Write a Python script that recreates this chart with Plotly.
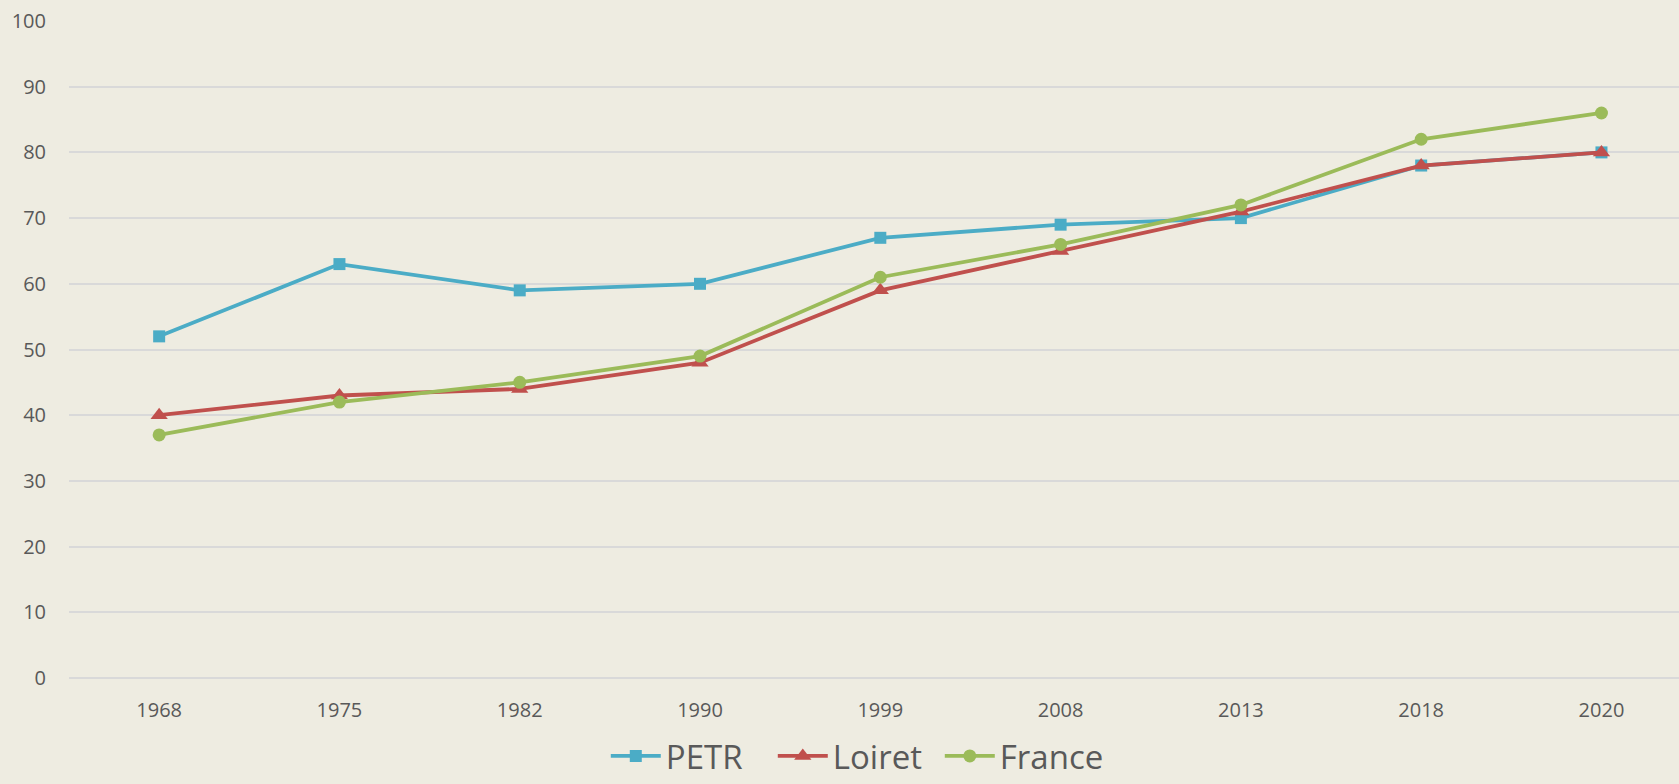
import plotly.graph_objects as go

years = ["1968", "1975", "1982", "1990", "1999", "2008", "2013", "2018", "2020"]
petr = [52, 63, 59, 60, 67, 69, 70, 78, 80]
loiret = [40, 43, 44, 48, 59, 65, 71, 78, 80]
france = [37, 42, 45, 49, 61, 66, 72, 82, 86]
y_ticks = [0, 10, 20, 30, 40, 50, 60, 70, 80, 90, 100]

fig = go.Figure()
fig.add_trace(go.Scatter(x=years, y=petr, name="PETR", mode="lines+markers",
                         line=dict(color="#4BACC6", width=3.8),
                         marker=dict(symbol="square", size=12, color="#4BACC6")))
fig.add_trace(go.Scatter(x=years, y=loiret, name="Loiret", mode="lines+markers",
                         line=dict(color="#C0504D", width=3.8),
                         marker=dict(symbol="triangle-up", size=15, color="#C0504D")))
fig.add_trace(go.Scatter(x=years, y=france, name="France", mode="lines+markers",
                         line=dict(color="#9BBB59", width=3.8),
                         marker=dict(symbol="circle", size=13, color="#9BBB59")))

fig.update_layout(
    width=1679, height=784,
    paper_bgcolor="#EEECE1", plot_bgcolor="#EEECE1",
    margin=dict(l=69, r=0, t=21, b=106),
    font=dict(family="Open Sans", color="#595959", size=20),
    showlegend=True,
    legend=dict(orientation="h", xref="container", yref="container",
                x=0.51, y=-0.019, xanchor="center", yanchor="bottom",
                font=dict(size=33, color="#595959"), bgcolor="rgba(0,0,0,0)",
                itemwidth=50, entrywidth=102, entrywidthmode="pixels",
                tracegroupgap=0),
    xaxis=dict(type="category", range=[-0.5, 8.43], showgrid=False,
               showline=False, zeroline=False, ticks="", ticklabelstandoff=18,
               tickfont=dict(size=20, color="#595959")),
    yaxis=dict(range=[0, 100], tickvals=y_ticks, showgrid=True,
               gridcolor="#D9D9D9", gridwidth=1.5, zeroline=True,
               zerolinecolor="#D9D9D9", zerolinewidth=1.5, showline=False,
               ticks="", ticklabelstandoff=22,
               tickfont=dict(size=20, color="#595959")),
)
fig.write_html("out.html", config={"displayModeBar": False},
               post_script="document.body.style.margin='0';document.body.style.background='#EEECE1';")
